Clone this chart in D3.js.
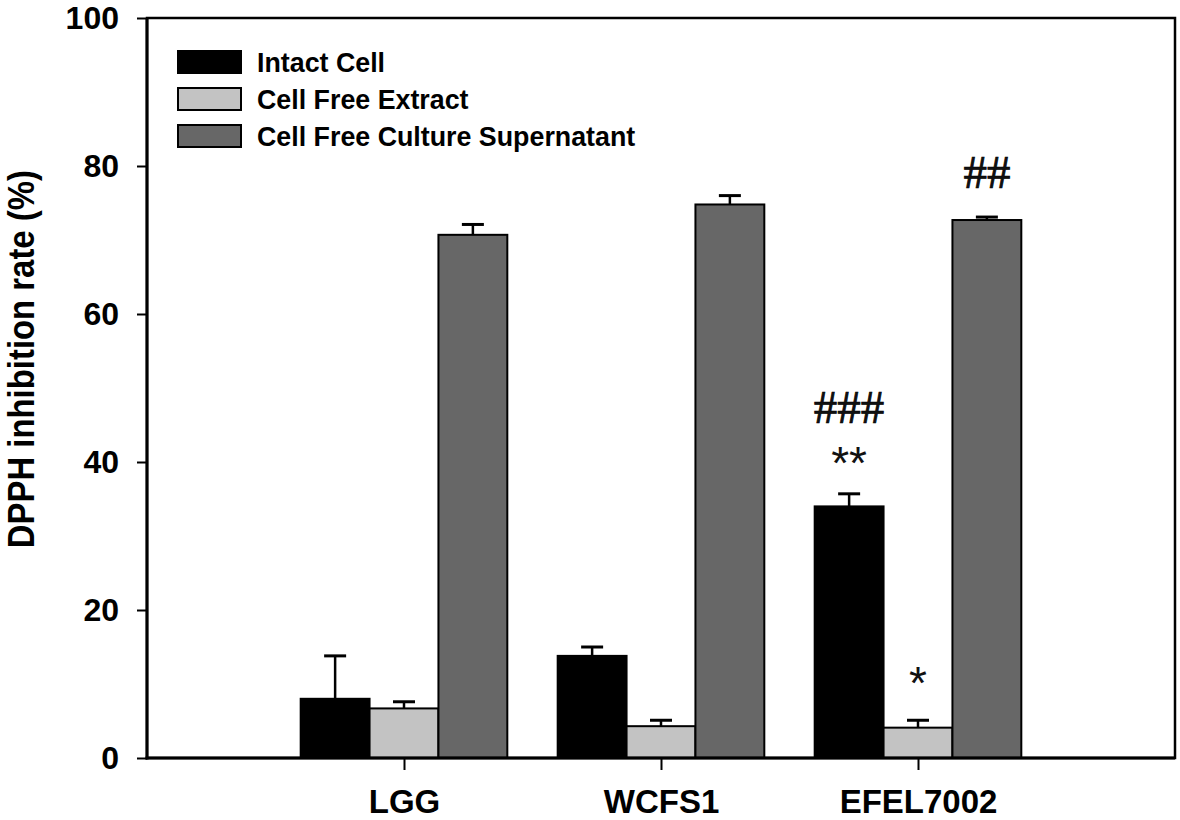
<!DOCTYPE html>
<html>
<head>
<meta charset="utf-8">
<script src="https://cdn.jsdelivr.net/npm/d3@7"></script>
<style>
  body { margin: 0; background: #fff; }
  svg { display: block; }
</style>
</head>
<body>
<div id="wrapper"></div>
<script>
const groups = ["LGG", "WCFS1", "EFEL7002"];
const seriesNames = ["Intact Cell", "Cell Free Extract", "Cell Free Culture Supernatant"];
const intactCell = [8.0, 13.8, 34.0];
const intactCellErr = [5.8, 1.2, 1.7];
const cellFreeExtract = [6.7, 4.3, 4.1];
const cellFreeExtractErr = [0.9, 0.8, 1.0];
const supernatant = [70.7, 74.8, 72.7];
const supernatantErr = [1.4, 1.2, 0.4];
const yTicks = [0, 20, 40, 60, 80, 100];

// significance marks: group, series index, label, y value of glyph centre
const marks = [
  { group: "EFEL7002", s: 0, text: "###", y: 47.4, kind: "hash" },
  { group: "EFEL7002", s: 0, text: "**", y: 41.3, kind: "star" },
  { group: "EFEL7002", s: 1, text: "*", y: 11.5, kind: "star" },
  { group: "EFEL7002", s: 2, text: "##", y: 79.2, kind: "hash" }
];

const seriesValues = [intactCell, cellFreeExtract, supernatant];
const seriesErrs = [intactCellErr, cellFreeExtractErr, supernatantErr];
const fills = ["#000000", "#c3c3c3", "#676767"];

function drawChart() {
  let dimensions = {
    width: 1180,
    height: 820,
    margin: { top: 18, right: 5, bottom: 62, left: 147 }
  };
  dimensions.boundedWidth = dimensions.width - dimensions.margin.left - dimensions.margin.right;
  dimensions.boundedHeight = dimensions.height - dimensions.margin.top - dimensions.margin.bottom;

  const wrapper = d3.select("#wrapper")
    .append("svg")
    .attr("width", dimensions.width)
    .attr("height", dimensions.height);
  const bounds = wrapper.append("g")
    .attr("transform", `translate(${dimensions.margin.left},${dimensions.margin.top})`);

  const xScale = d3.scaleLinear()
    .domain([0, groups.length + 1])
    .range([0, dimensions.boundedWidth]);
  const yScale = d3.scaleLinear()
    .domain([0, 100])
    .range([dimensions.boundedHeight, 0]);

  const step = xScale(1) - xScale(0);
  const barWidth = step * 0.268;
  const innerScale = d3.scaleBand()
    .domain(d3.range(seriesNames.length))
    .range([-barWidth * 1.5, barWidth * 1.5])
    .padding(0);

  const rows = [];
  groups.forEach((g, gi) => {
    seriesNames.forEach((s, si) => {
      rows.push({ group: g, gi, si, value: seriesValues[si][gi], err: seriesErrs[si][gi] });
    });
  });
  const barCenter = d => xScale(d.gi + 1) + innerScale(d.si) + barWidth / 2;

  // error bars (upper only) drawn before bars
  const errG = bounds.append("g");
  errG.selectAll("line.stem")
    .data(rows)
    .join("line")
    .attr("class", "stem")
    .attr("x1", barCenter)
    .attr("x2", barCenter)
    .attr("y1", d => yScale(d.value))
    .attr("y2", d => yScale(d.value + d.err))
    .attr("stroke", "#000")
    .attr("stroke-width", 2.5);
  errG.selectAll("line.cap")
    .data(rows)
    .join("line")
    .attr("class", "cap")
    .attr("x1", d => barCenter(d) - 11)
    .attr("x2", d => barCenter(d) + 11)
    .attr("y1", d => yScale(d.value + d.err))
    .attr("y2", d => yScale(d.value + d.err))
    .attr("stroke", "#000")
    .attr("stroke-width", 3);

  bounds.append("g")
    .selectAll("rect")
    .data(rows)
    .join("rect")
    .attr("x", d => xScale(d.gi + 1) + innerScale(d.si))
    .attr("y", d => yScale(d.value))
    .attr("width", barWidth)
    .attr("height", d => yScale(0) - yScale(d.value))
    .attr("fill", d => fills[d.si])
    .attr("stroke", "#000")
    .attr("stroke-width", 2);

  // frame
  bounds.append("rect")
    .attr("width", dimensions.boundedWidth)
    .attr("height", dimensions.boundedHeight)
    .attr("fill", "none")
    .attr("stroke", "#000")
    .attr("stroke-width", 2.5);

  const yAxis = bounds.append("g")
    .call(d3.axisLeft(yScale).tickValues(yTicks).tickSize(10).tickPadding(18));
  yAxis.select(".domain").remove();
  yAxis.selectAll(".tick line").attr("stroke-width", 2);
  yAxis.selectAll("text")
    .style("font-family", "'Liberation Sans', Arial, sans-serif")
    .style("font-weight", "bold")
    .style("font-size", "32px")
    .attr("fill", "#000");

  const xAxis = bounds.append("g")
    .attr("transform", `translate(0,${dimensions.boundedHeight})`)
    .call(d3.axisBottom(xScale).tickValues(d3.range(1, groups.length + 1))
      .tickFormat(i => groups[i - 1]).tickSize(12).tickPadding(20));
  xAxis.select(".domain").remove();
  xAxis.selectAll(".tick line").attr("stroke-width", 2);
  xAxis.selectAll("text")
    .style("font-family", "'Liberation Sans', Arial, sans-serif")
    .style("font-weight", "bold")
    .style("font-size", "33px")
    .attr("fill", "#000");

  // heavier left and bottom axis lines
  bounds.append("line")
    .attr("x1", 0).attr("x2", 0)
    .attr("y1", 0).attr("y2", dimensions.boundedHeight + 1.5)
    .attr("stroke", "#000").attr("stroke-width", 3);
  bounds.append("line")
    .attr("x1", -1.5).attr("x2", dimensions.boundedWidth)
    .attr("y1", dimensions.boundedHeight).attr("y2", dimensions.boundedHeight)
    .attr("stroke", "#000").attr("stroke-width", 3);

  // y label
  wrapper.append("text")
    .attr("transform", `translate(34,${yScale(53.9) + dimensions.margin.top}) rotate(-90)`)
    .attr("text-anchor", "middle")
    .attr("textLength", 378)
    .attr("lengthAdjust", "spacingAndGlyphs")
    .style("font-family", "'Liberation Sans', Arial, sans-serif")
    .style("font-weight", "bold")
    .style("font-size", "36px")
    .text("DPPH inhibition rate (%)");

  // legend
  const legend = bounds.append("g").attr("transform", "translate(31,33)");
  const legendItems = legend.selectAll("g")
    .data(seriesNames)
    .join("g")
    .attr("transform", (d, i) => `translate(0,${i * 37})`);
  legendItems.append("rect")
    .attr("width", 63)
    .attr("height", 22)
    .attr("fill", (d, i) => fills[i])
    .attr("stroke", "#000")
    .attr("stroke-width", 2);
  legendItems.append("text")
    .attr("x", 79)
    .attr("y", 21)
    .style("font-family", "'Liberation Sans', Arial, sans-serif")
    .style("font-weight", "bold")
    .style("font-size", "26.8px")
    .text(d => d);

  // significance marks
  bounds.append("g")
    .selectAll("text")
    .data(marks)
    .join("text")
    .attr("x", d => xScale(groups.indexOf(d.group) + 1) + innerScale(d.s) + barWidth / 2)
    .attr("y", d => yScale(d.y))
    .attr("dy", d => d.kind === "hash" ? "0.34em" : "0.57em")
    .attr("text-anchor", "middle")
    .attr("stroke", d => d.kind === "hash" ? "#000" : "none")
    .attr("stroke-width", 0.7)
    .style("font-family", d => d.kind === "hash" ? "'Liberation Serif', 'Times New Roman', serif" : "'Liberation Sans', Arial, sans-serif")
    .style("font-size", d => d.kind === "hash" ? "47px" : "46px")
    .attr("fill", "#111")
    .text(d => d.text);
}

drawChart();
</script>
</body>
</html>
